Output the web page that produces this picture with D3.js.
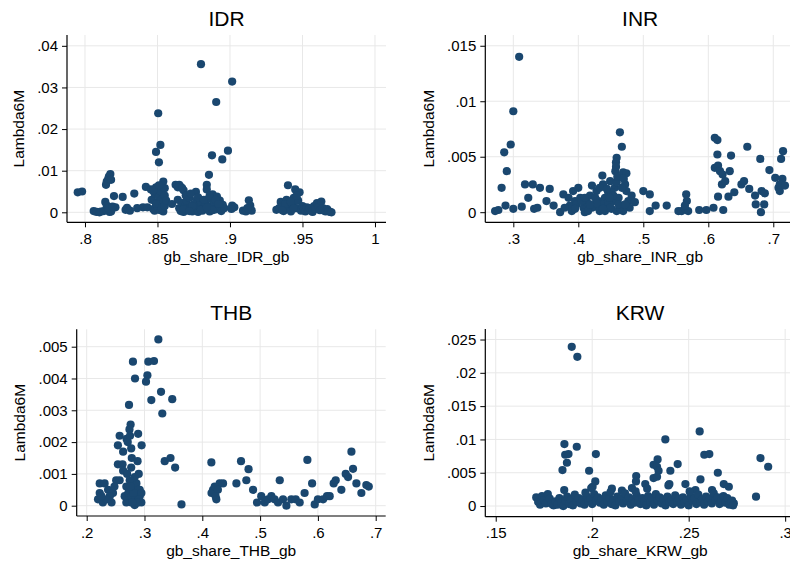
<!DOCTYPE html>
<html>
<head>
<meta charset="utf-8">
<script src="https://cdn.jsdelivr.net/npm/d3@7/dist/d3.min.js"></script>
<style>
  html, body { margin: 0; padding: 0; background: #fff; }
  svg { display: block; font-family: "Liberation Sans", Arial, sans-serif; }
</style>
</head>
<body>
<svg id="chart" width="790" height="563"></svg>
<script>
// ---------------- DATA ----------------
const panelNames = ["IDR", "INR", "THB", "KRW"];
const yTitle = "Lambda6M";

const idrXTicks = [0.8, 0.85, 0.9, 0.95, 1];
const idrYTicks = [0, 0.01, 0.02, 0.03, 0.04];
const inrXTicks = [0.3, 0.4, 0.5, 0.6, 0.7];
const inrYTicks = [0, 0.005, 0.01, 0.015];
const thbXTicks = [0.2, 0.3, 0.4, 0.5, 0.6, 0.7];
const thbYTicks = [0, 0.001, 0.002, 0.003, 0.004, 0.005];
const krwXTicks = [0.15, 0.2, 0.25, 0.3];
const krwYTicks = [0, 0.005, 0.01, 0.015, 0.02, 0.025];

// [gb_share, Lambda6M]
const idrPoints = [
[.795,.0048],[.798,.0050],
[.806,.0003],[.808,.0001],[.810,.0000],[.811,.0002],[.813,.0003],[.815,.0005],[.817,.0001],[.818,.0002],
[.814,.0025],[.815,.0016],[.816,.0010],
[.8145,.0066],[.815,.0074],[.816,.0080],[.8165,.0086],[.8175,.0092],[.818,.0078],
[.820,.0039],[.826,.0037],[.821,.0012],[.819,.0014],
[.828,.0006],[.829,.0011],[.831,.0004],
[.834,.0045],[.836,.0010],[.840,.0012],
[.842,.0061],[.843,.0012],[.8455,.0055],[.847,.0008],[.848,.0004],
[.849,.0145],[.852,.0162],[.851,.0120],
[.846,.0030],[.848,.0045],[.849,.0060],[.850,.0025],[.851,.0038],[.852,.0050],[.853,.0020],[.854,.0074],
[.855,.0058],[.853,.0031],[.850,.0012],[.852,.0005],[.854,.0002],[.855,.0040],[.849,.0020],[.847,.0052],
[.851,.0065],[.853,.0010],[.855,.0015],[.856,.0028],
[.860,.0020],
[.8625,.0066],[.865,.0066],[.866,.0061],[.868,.0053],[.8695,.0041],[.864,.0060],[.867,.0058],
[.864,.0030],[.865,.0010],[.866,.0003],[.867,.0022],[.868,.0001],[.869,.0015],[.870,.0028],[.871,.0005],
[.872,.0035],[.873,.0012],[.874,.0002],[.875,.0020],[.876,.0008],[.8765,.0049],[.877,.0030],[.878,.0001],
[.879,.0016],[.880,.0025],[.881,.0004],[.882,.0010],[.883,.0020],[.884,.0066],[.8855,.0090],[.884,.0055],
[.885,.0032],[.886,.0002],[.887,.0015],[.888,.0043],[.889,.0025],[.890,.0007],[.891,.0038],[.892,.0012],
[.893,.0028],[.894,.0003],[.895,.0018],[.896,.0010],[.870,.0040],[.873,.0045],[.868,.0008],[.878,.0036],
[.882,.0030],[.886,.0040],[.890,.0030],[.874,.0015],[.880,.0006],[.872,.0003],[.888,.0005],[.884,.0012],[.892,.0020],
[.8876,.0137],[.8947,.0127],[.8986,.0148],[.8800,.0356],[.8905,.0265],[.9015,.0314],[.8505,.0238],
[.9015,.0016],[.903,.0012],[.901,.0008],
[.909,.0004],[.911,.0002],[.913,.0029],[.914,.0016],[.915,.0004],[.912,.0010],
[.932,.0006],[.934,.0010],[.935,.0025],[.936,.0015],[.937,.0003],[.938,.0008],[.939,.0030],[.940,.0065],
[.941,.0012],[.942,.0002],[.943,.0020],[.944,.0035],[.945,.0055],[.946,.0010],[.947,.0028],[.948,.0048],
[.949,.0004],[.950,.0015],[.951,.0008],[.952,.0002],[.953,.0012],[.954,.0006],[.955,.0010],[.956,.0003],
[.957,.0001],[.958,.0015],[.959,.0008],[.960,.0022],[.961,.0012],[.962,.0005],[.963,.0026],[.964,.0010],
[.965,.0004],[.966,.0002],[.967,.0008],[.968,.0003],[.969,.0001],[.970,.0000],[.938,.0020],[.942,.0025],
[.946,.0040],[.936,.0005],[.944,.0009]
];

const inrPoints = [
[.272,.0001],[.277,.0002],[.288,.0006],[.300,.0003],[.313,.0005],
[.282,.0022],[.290,.0037],[.286,.0054],[.296,.0061],[.309,.0140],[.300,.0091],
[.318,.0025],[.330,.0025],[.341,.0022],[.356,.0021],[.323,.0013],[.332,.0003],[.337,.0004],[.351,.0010],
[.362,.0006],[.372,.0000],[.377,.0016],
[.392,.0019],[.400,.0022],[.395,.0010],[.387,.0006],[.390,.0001],[.397,.0007],[.403,.0013],[.408,.0004],
[.410,.0000],[.413,.0009],[.418,.0015],[.421,.0024],[.423,.0006],[.428,.0019],[.431,.0010],[.433,.0001],
[.437,.0033],[.438,.0025],[.441,.0013],[.444,.0006],[.446,.0018],[.449,.0028],[.451,.0003],[.454,.0010],
[.456,.0022],[.459,.0049],[.458,.0045],[.457,.0037],[.459,.0027],[.462,.0013],[.464,.0072],[.467,.0059],
[.469,.0036],[.474,.0035],[.472,.0025],[.474,.0019],[.477,.0010],[.479,.0004],[.482,.0015],[.487,.0009],
[.469,.0001],[.464,.0004],[.459,.0001],[.451,.0018],[.441,.0001],[.431,.0004],[.421,.0004],[.415,.0001],
[.405,.0010],[.395,.0003],[.426,.0013],[.436,.0007],[.446,.0009],[.454,.0015],[.462,.0007],[.433,.0022],
[.444,.0021],[.467,.0022],[.472,.0007],[.449,.0004],[.438,.0003],[.410,.0013],[.385,.0013],[.379,.0004],
[.458,.0041],[.460,.0032],[.470,.0030],[.448,.0013],[.428,.0008],[.418,.0007],
[.500,.0019],[.510,.0016],[.510,.0001],[.519,.0006],[.536,.0006],
[.554,.0001],[.559,.0001],[.564,.0003],[.567,.0010],[.566,.0016],[.569,.0001],[.564,.0006],
[.586,.0002],[.597,.0002],[.608,.0004],[.623,.0002],
[.610,.0067],[.614,.0065],[.614,.0052],[.635,.0051],[.610,.0040],[.615,.0042],[.618,.0037],[.622,.0034],
[.633,.0037],[.621,.0025],[.626,.0028],[.615,.0014],[.631,.0014],[.640,.0018],[.651,.0025],[.655,.0028],
[.660,.0059],[.663,.0021],[.672,.0015],[.673,.0007],[.680,.0048],[.681,.0000],[.682,.0019],[.687,.0017],
[.686,.0007],[.694,.0038],[.703,.0031],[.708,.0022],[.710,.0019],[.712,.0048],[.714,.0030],[.715,.0055],
[.710,.0025],[.718,.0024]
];

const thbPoints = [
[.324,.00523],[.280,.00453],[.3066,.00453],[.3164,.00455],[.2836,.0040],[.305,.0041],[.3026,.0039],
[.3286,.00358],[.3118,.00332],[.348,.00335],[.2732,.00317],[.3308,.0029],
[.276,.00255],[.274,.0024],[.257,.0022],[.289,.00226],[.295,.0019],[.254,.0019],[.263,.0017],[.269,.0021],
[.277,.0018],[.271,.0020],[.275,.0022],[.278,.0015],
[.254,.0013],[.262,.0013],[.288,.0014],[.263,.0011],[.270,.0010],[.290,.0010],[.277,.0012],
[.335,.0014],[.345,.0015],[.353,.0012],[.364,.00004],
[.2225,.0007],[.231,.0007],[.2225,.0004],[.2196,.0002],[.228,.0001],[.237,.0005],[.243,.0001],[.2455,.0004],
[.251,.0008],[.257,.0008],[.240,.0003],[.234,.0002],[.2254,.0003],[.248,.0006],
[.2686,.0006],[.2744,.0005],[.280,.0006],[.286,.0004],[.2917,.0003],[.2715,.0002],[.2773,.0001],[.283,.00002],
[.2888,.0001],[.2946,.0001],[.2686,.0001],[.2744,.0003],[.280,.0002],[.286,.0007],[.2917,.0005],[.2657,.0003],
[.283,.0009],[.2744,.0008],[.2888,.0005],[.2946,.0004],[.272,.0004],[.278,.0003],[.284,.0002],[.290,.0002],
[.281,.0004],[.276,.0006],[.287,.0001],[.279,.0001],
[.4157,.00136],[.4186,.0005],[.416,.0004],[.4243,.0002],[.430,.0007],[.4359,.0007],[.4215,.0006],[.427,.0005],[.423,.0003],
[.459,.0007],[.467,.0014],[.4762,.0008],[.480,.00115],[.4878,.0005],
[.4947,.0001],[.502,.0003],[.508,.0001],[.5137,.0002],[.5195,.0003],[.525,.0002],[.534,.0008],[.531,.0001],
[.5397,.0002],[.5455,.0000],[.554,.0002],[.5616,.0002],[.5685,.0001],[.577,.0004],[.5818,.00144],[.590,.0007],
[.5945,.00004],[.600,.0002],[.609,.0002],[.6158,.0003],[.6204,.0003],[.6273,.0007],[.6308,.0008],[.6406,.0005],
[.6481,.0010],[.6522,.0009],[.658,.0017],[.6608,.00116],[.6666,.0007],[.6752,.0004],[.6838,.00065],[.688,.0006]
];

const krwPoints = [
[.1894,.0239],[.1923,.0224],
[.2557,.0112],[.2379,.0100],[.1856,.0093],[.1920,.0089],[.1860,.0077],[.1877,.0078],[.1869,.0065],[.1846,.0054],
[.2019,.0078],[.1984,.0053],[.2581,.0077],[.2607,.0078],[.2872,.0072],[.2912,.0059],[.2339,.0070],[.2318,.0062],
[.2336,.0059],[.2443,.0063],[.2405,.0053],[.2344,.0053],[.2651,.0050],[.2561,.0040],[.2228,.0045],[.2227,.0037],
[.2016,.0037],[.2002,.0029],[.1995,.0027],[.2318,.0042],[.2336,.0044],[.2400,.0033],[.2483,.0033],[.1855,.0024],
[.2102,.0026],[.2154,.0023],[.2206,.0027],[.2275,.0033],[.2535,.0024],[.2621,.0024],[.2682,.0033],[.2708,.0029],
[.2849,.0014],[.2734,.0004],[.2725,.0008],
[.171,.0013],[.172,.0006],[.173,.0002],[.174,.0015],[.175,.0009],[.176,.0004],[.177,.0018],[.178,.0011],
[.179,.0003],[.180,.0001],[.181,.0007],[.182,.0002],[.183,.0012],[.184,.0005],[.185,.0000],[.186,.0008],
[.187,.0014],[.188,.0003],[.189,.0010],[.190,.0001],[.191,.0017],[.192,.0006],[.193,.0012],[.194,.0004],
[.195,.0009],[.196,.0002],[.197,.0015],[.198,.0007],[.199,.0011],[.200,.0003],[.201,.0018],[.202,.0008],
[.203,.0013],[.204,.0005],[.205,.0010],[.206,.0002],[.207,.0016],[.208,.0006],[.209,.0012],[.210,.0003],
[.211,.0009],[.212,.0001],[.213,.0014],[.214,.0007],[.215,.0011],[.216,.0004],[.217,.0019],[.218,.0008],
[.219,.0013],[.220,.0002],[.221,.0010],[.222,.0005],[.223,.0016],[.224,.0009],[.225,.0003],[.226,.0012],
[.227,.0007],[.228,.0001],[.229,.0015],[.230,.0006],[.231,.0011],[.232,.0002],[.233,.0018],[.234,.0008],
[.235,.0013],[.236,.0004],[.237,.0010],[.238,.0001],[.239,.0014],[.240,.0006],[.241,.0009],[.242,.0003],
[.243,.0016],[.244,.0007],[.245,.0011],[.246,.0002],[.247,.0013],[.248,.0005],[.249,.0009],[.250,.0001],
[.251,.0015],[.252,.0008],[.253,.0012],[.254,.0003],[.255,.0017],[.256,.0006],[.257,.0010],[.258,.0002],
[.259,.0014],[.260,.0007],[.261,.0011],[.262,.0004],[.263,.0019],[.264,.0009],[.265,.0013],[.266,.0003],
[.267,.0008],[.268,.0015],[.269,.0005],[.270,.0012],[.271,.0002],[.272,.0007],[.273,.0001],
[.2225,.0022],[.2395,.0031],[.2285,.0026],[.2095,.0021],[.2505,.0022],[.1965,.0020]
];

// Axis extents (data units) as drawn
const idrXDomain = [0.7876, 1.0076], idrYDomain = [-0.0024, 0.0426];
const inrXDomain = [0.2569, 0.7334], inrYDomain = [-0.00091, 0.01597];
const thbXDomain = [0.1827, 0.7173], thbYDomain = [-0.000324, 0.005547];
const krwXDomain = [0.1446, 0.3051], krwYDomain = [-0.0016, 0.02658];

// ---------------- LAYOUT ----------------
const layout = {
  IDR: { left: 67,    right: 386,   top: 35,    bottom: 222.3 },
  INR: { left: 485.3, right: 795,   top: 35,    bottom: 222.3 },
  THB: { left: 76.7,  right: 385.7, top: 329.3, bottom: 516 },
  KRW: { left: 485.3, right: 795,   top: 329,   bottom: 516.7 }
};

const panels = [
  { name: "IDR", pts: idrPoints, xT: idrXTicks, yT: idrYTicks, xD: idrXDomain, yD: idrYDomain },
  { name: "INR", pts: inrPoints, xT: inrXTicks, yT: inrYTicks, xD: inrXDomain, yD: inrYDomain },
  { name: "THB", pts: thbPoints, xT: thbXTicks, yT: thbYTicks, xD: thbXDomain, yD: thbYDomain },
  { name: "KRW", pts: krwPoints, xT: krwXTicks, yT: krwYTicks, xD: krwXDomain, yD: krwYDomain }
];

const markerColor = "#1a476f";
const gridColor = "#e8e8e8";
const fmt = v => v === 0 ? "0" : String(+v.toFixed(4)).replace(/^0\./, ".");

const svg = d3.select("#chart");
svg.append("rect").attr("width", 790).attr("height", 563).attr("fill", "#fff");

panels.forEach((p, i) => {
  const L = layout[p.name];
  const x = d3.scaleLinear().domain(p.xD).range([L.left, L.right]);
  const y = d3.scaleLinear().domain(p.yD).range([L.bottom, L.top]);
  const g = svg.append("g");

  // grid
  g.append("g").selectAll("line").data(p.yT).join("line")
    .attr("x1", L.left).attr("x2", L.right)
    .attr("y1", d => y(d)).attr("y2", d => y(d))
    .attr("stroke", gridColor).attr("stroke-width", 1);
  g.append("g").selectAll("line").data(p.xT).join("line")
    .attr("y1", L.top).attr("y2", L.bottom)
    .attr("x1", d => x(d)).attr("x2", d => x(d))
    .attr("stroke", gridColor).attr("stroke-width", 1);

  // points
  g.append("g").selectAll("circle").data(p.pts).join("circle")
    .attr("cx", d => x(d[0])).attr("cy", d => y(d[1]))
    .attr("r", 4.1).attr("fill", markerColor);

  // axes
  const yAxis = d3.axisLeft(y).tickValues(p.yT).tickFormat(fmt).tickSize(5).tickPadding(4);
  const xAxis = d3.axisBottom(x).tickValues(p.xT).tickFormat(fmt).tickSize(5).tickPadding(4);
  const ya = g.append("g").attr("transform", `translate(${L.left},0)`).call(yAxis);
  const xa = g.append("g").attr("transform", `translate(0,${L.bottom})`).call(xAxis);
  [ya, xa].forEach(a => {
    a.select(".domain").remove();
    a.selectAll(".tick line").attr("stroke", "#000").attr("stroke-width", 1);
    a.selectAll("text").attr("fill", "#000").style("font-size", "15px")
      .style("font-family", '"Liberation Sans", Arial, sans-serif');
  });
  xa.selectAll("text").attr("dy", "0.85em");
  g.append("line").attr("x1", L.left).attr("x2", L.left).attr("y1", L.top).attr("y2", L.bottom)
    .attr("stroke", "#000").attr("stroke-width", 1.2);
  g.append("line").attr("x1", L.left).attr("x2", L.right).attr("y1", L.bottom).attr("y2", L.bottom)
    .attr("stroke", "#000").attr("stroke-width", 1.2);

  // titles
  const cx = (L.left + L.right) / 2;
  g.append("text").attr("x", cx).attr("y", L.top - 9)
    .attr("text-anchor", "middle").style("font-size", "21px").attr("fill", "#000").text(p.name);
  g.append("text").attr("x", cx).attr("y", L.bottom + 39.5)
    .attr("text-anchor", "middle").style("font-size", "15.5px").attr("fill", "#000")
    .text("gb_share_" + p.name + "_gb");
  const bb = ya.node().getBBox();
  const tx = L.left + bb.x - 13.5;
  const ty = (L.top + L.bottom) / 2;
  g.append("text").attr("transform", `translate(${tx},${ty}) rotate(-90)`)
    .attr("text-anchor", "middle").style("font-size", "15.5px").attr("fill", "#000").text(yTitle);
});
</script>
</body>
</html>
